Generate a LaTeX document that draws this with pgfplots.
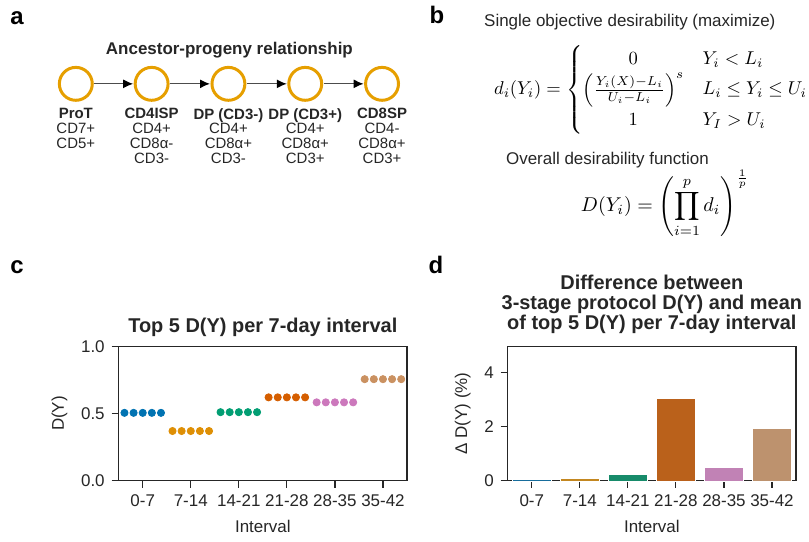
\documentclass[border=0pt]{standalone}
\usepackage{amsmath}
\usepackage[no-math]{fontspec}
\setmainfont{Liberation Sans}
\usepackage{pgfplots}
\pgfplotsset{compat=1.18}
\usetikzlibrary{arrows.meta}

\definecolor{cb1}{HTML}{0173B2}
\definecolor{cb2}{HTML}{DE8F05}
\definecolor{cb3}{HTML}{029E73}
\definecolor{cb4}{HTML}{D55E00}
\definecolor{cb5}{HTML}{CC78BC}
\definecolor{cb6}{HTML}{CA9161}
\definecolor{cd1}{HTML}{176D9C}
\definecolor{cd2}{HTML}{C38720}
\definecolor{cd3}{HTML}{178B6A}
\definecolor{cd4}{HTML}{BA611B}
\definecolor{cd5}{HTML}{C182B5}
\definecolor{cd6}{HTML}{BD926E}
\definecolor{circ}{HTML}{E69F00}
\definecolor{axc}{HTML}{262626}

\newcommand{\tickfont}{\fontsize{8.5}{10}\selectfont}
\newcommand{\titlefont}{\bfseries\fontsize{10}{10}\selectfont}

\pgfplotsset{
  panel/.style={
    scale only axis, width=144.5pt, height=67.5pt,
    xmin=-0.5, xmax=5.5, ymin=0,
    xtick={0,1,2,3,4,5},
    xticklabels={0-7,7-14,14-21,21-28,28-35,35-42},
    tick align=outside, tick pos=left, major tick length=3.5pt,
    axis line style={line width=0.6pt, color=axc},
    every tick/.style={line width=0.6pt, color=axc},
    ticklabel style={font=\tickfont, text=axc},
    label style={font=\tickfont, text=axc},
    /pgf/number format/assume math mode=true,
    xlabel={Interval},
    title style={font=\titlefont, text=axc, align=center},
    clip=false,
  }
}

\begin{document}
\begin{tikzpicture}[x=0.5pt,y=-0.5pt]
\path (0,0) rectangle (809,542);

% panel letters
\node[anchor=base, font=\bfseries\fontsize{12}{12}\selectfont] at (17,24) {a};
\node[anchor=base, font=\bfseries\fontsize{12}{12}\selectfont] at (438,23) {b};
\node[anchor=base, font=\bfseries\fontsize{12}{12}\selectfont] at (17,273) {c};
\node[anchor=base, font=\bfseries\fontsize{12}{12}\selectfont] at (437,273) {d};

% panel a
\node[font=\bfseries\fontsize{8.5}{10}\selectfont, text=axc] at (230,49) {Ancestor-progeny relationship};
\foreach \xx in {76,152,229,306,383}{
  \draw[circ, line width=1.5pt, fill=white] (\xx,83) circle[radius=8.25pt];
}
\foreach \xa/\xb in {76/152,152/229,229/306,306/383}{
  \draw[black!70, line width=0.6pt, -{Latex[length=5pt,width=4.5pt,black]}] (\xa+18.5,83) -- (\xb-18.5,83);
}
\begin{scope}[every node/.style={anchor=north, align=center, font=\fontsize{7.5}{7.5}\selectfont, text=axc, inner sep=0pt}]
\node at (76,107) {\textbf{ProT}\\CD7+\\CD5+};
\node at (152,107) {\textbf{CD4ISP}\\CD4+\\CD8α-\\CD3-};
\node at (229,107) {\textbf{DP (CD3-)}\\CD4+\\CD8α+\\CD3-};
\node at (306,107) {\textbf{DP (CD3+)}\\CD4+\\CD8α+\\CD3+};
\node at (383,107) {\textbf{CD8SP}\\CD4-\\CD8α+\\CD3+};
\end{scope}

% panel b
\node[anchor=base west, inner sep=0pt, font=\fontsize{8.5}{10}\selectfont, text=axc] at (485,26) {Single objective desirability (maximize)};
\node[anchor=west, inner sep=0pt, scale=0.93] at (495,89) {$d_i(Y_i) = \left\{\renewcommand{\arraystretch}{1.2}\begin{array}{@{}c@{\quad}l@{}} 0 & Y_i < L_i \\ \left(\frac{Y_i(X)-L_i}{U_i-L_i}\right)^{s} & L_i \le Y_i \le U_i \\ 1 & Y_I > U_i \end{array}\right.$};
\node[anchor=base west, inner sep=0pt, font=\fontsize{8.5}{10}\selectfont, text=axc] at (507,164) {Overall desirability function};
\node[anchor=west, inner sep=0pt] at (582,203) {$\displaystyle D(Y_i) = \left(\prod_{i=1}^{p} d_i\right)^{\frac{1}{p}}$};

% panel c
\begin{axis}[panel, at={(59.5pt,-240.5pt)}, anchor=south west,
  ymax=1, ytick={0,0.5,1},
  yticklabel style={/pgf/number format/fixed,/pgf/number format/fixed zerofill,/pgf/number format/precision=1},
  ylabel={D(Y)},
  title={Top 5 D(Y) per 7-day interval},
  title style={yshift=-5pt},
]
\addplot[only marks, mark=*, mark size=1.8pt, color=cb1] coordinates {(-0.38,0.505) (-0.19,0.505) (0,0.505) (0.19,0.505) (0.38,0.505)};
\addplot[only marks, mark=*, mark size=1.8pt, color=cb2] coordinates {(0.62,0.37) (0.81,0.37) (1,0.37) (1.19,0.37) (1.38,0.37)};
\addplot[only marks, mark=*, mark size=1.8pt, color=cb3] coordinates {(1.62,0.51) (1.81,0.51) (2,0.51) (2.19,0.51) (2.38,0.51)};
\addplot[only marks, mark=*, mark size=1.8pt, color=cb4] coordinates {(2.62,0.62) (2.81,0.62) (3,0.62) (3.19,0.62) (3.38,0.62)};
\addplot[only marks, mark=*, mark size=1.8pt, color=cb5] coordinates {(3.62,0.583) (3.81,0.583) (4,0.583) (4.19,0.583) (4.38,0.583)};
\addplot[only marks, mark=*, mark size=1.8pt, color=cb6] coordinates {(4.62,0.755) (4.81,0.755) (5,0.755) (5.19,0.755) (5.38,0.755)};
\end{axis}

% panel d
\begin{axis}[panel, at={(254.5pt,-240.5pt)}, anchor=south west,
  ymax=4.97, ytick={0,2,4},
  ylabel={Δ D(Y) (\%)},
  title={Difference between\\3-stage protocol D(Y) and mean\\of top 5 D(Y) per 7-day interval},
  title style={yshift=-3pt},
]
\addplot[ybar, bar shift=0pt, bar width=0.8, fill=cd1, draw=white, line width=0.3pt] coordinates {(0,0.04)};
\addplot[ybar, bar shift=0pt, bar width=0.8, fill=cd2, draw=white, line width=0.3pt] coordinates {(1,0.08)};
\addplot[ybar, bar shift=0pt, bar width=0.8, fill=cd3, draw=white, line width=0.3pt] coordinates {(2,0.26)};
\addplot[ybar, bar shift=0pt, bar width=0.8, fill=cd4, draw=white, line width=0.3pt] coordinates {(3,3.03)};
\addplot[ybar, bar shift=0pt, bar width=0.8, fill=cd5, draw=white, line width=0.3pt] coordinates {(4,0.49)};
\addplot[ybar, bar shift=0pt, bar width=0.8, fill=cd6, draw=white, line width=0.3pt] coordinates {(5,1.94)};
\end{axis}
\end{tikzpicture}
\end{document}
